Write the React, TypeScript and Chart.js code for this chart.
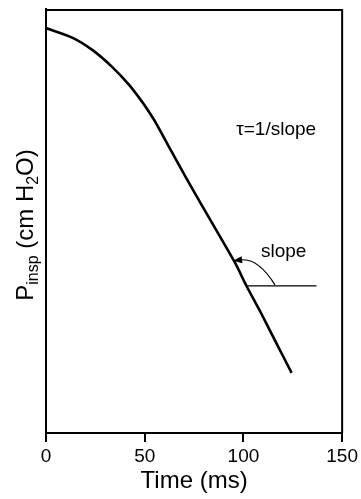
import React, { useEffect, useRef } from "react";
import { Chart, registerables } from "chart.js";

Chart.register(...registerables);

const FONT = "'Liberation Sans', Arial, Helvetica, sans-serif";

// Curve: inspiratory pressure vs time
const timeMs = [0, 13.5, 23.6, 33.6, 42.1, 48.7, 52.2, 55.7, 63.7, 70.7, 78.8, 95.8, 101.3, 108.9, 115.9, 124.4];
const pressure = [95.5, 93.2, 90.3, 86.3, 82.1, 78.1, 75.7, 73.1, 66.3, 60.4, 53.8, 40.1, 34.9, 28.3, 21.9, 14.2];

// Horizontal reference line for the slope
const slopeLineX = [101.3, 137];
const slopeLineY = [34.7, 34.7];

// Axis
const xTicks = [0, 50, 100, 150];
const xTitle = "Time (ms)";
const yTitleParts = [
  { text: "P", sub: false },
  { text: "insp", sub: true },
  { text: " (cm H", sub: false },
  { text: "2", sub: true },
  { text: "O)", sub: false },
];

// Annotations (data units)
const tauLabel = { text: "τ=1/slope", x: 116.6, y: 71.5 };
const slopeLabel = { text: "slope", x: 120.4, y: 42.7 };

export default function App() {
  const ref = useRef<HTMLCanvasElement>(null);

  useEffect(() => {
    const canvas = ref.current!;

    const frame = {
      id: "frame",
      afterDraw(chart: any) {
        const { ctx, chartArea: a, scales } = chart;
        ctx.save();
        ctx.strokeStyle = "#000";
        ctx.lineWidth = 2;
        ctx.beginPath();
        ctx.moveTo(a.left, a.top + 1);
        ctx.lineTo(a.right, a.top + 1);
        ctx.moveTo(a.right, a.top);
        ctx.lineTo(a.right, a.bottom);
        ctx.stroke();

        // Y title with subscripts
        const F = 24;
        const S = 16;
        const parts = yTitleParts.map((p) => {
          ctx.font = `${p.sub ? S : F}px ${FONT}`;
          return { ...p, w: ctx.measureText(p.text).width };
        });
        const total = parts.reduce((s, p) => s + p.w, 0);
        const cy = (a.top + a.bottom) / 2 + 4;
        ctx.translate(33, cy);
        ctx.rotate(-Math.PI / 2);
        ctx.fillStyle = "#000";
        ctx.textBaseline = "alphabetic";
        ctx.textAlign = "left";
        let x = -total / 2;
        for (const p of parts) {
          ctx.font = `${p.sub ? S : F}px ${FONT}`;
          ctx.fillText(p.text, x, p.sub ? 5 : 0);
          x += p.w;
        }
        ctx.restore();

        // Annotations
        const xs = scales.x;
        const ys = scales.y;
        ctx.save();
        ctx.fillStyle = "#000";
        ctx.font = `19px ${FONT}`;
        ctx.textAlign = "center";
        ctx.textBaseline = "middle";
        ctx.fillText(tauLabel.text, xs.getPixelForValue(tauLabel.x), ys.getPixelForValue(tauLabel.y));
        ctx.fillText(slopeLabel.text, xs.getPixelForValue(slopeLabel.x), ys.getPixelForValue(slopeLabel.y));

        // Arc with arrow
        const px = xs.getPixelForValue(slopeLineX[0]);
        const py = ys.getPixelForValue(slopeLineY[0]);
        const sx = px + 29, sy = py - 1;
        const cx = px + 12, cyy = py - 28;
        const ex = px - 5, ey = py - 26;
        ctx.strokeStyle = "#000";
        ctx.lineWidth = 1.2;
        ctx.beginPath();
        ctx.moveTo(sx, sy);
        ctx.quadraticCurveTo(cx, cyy, ex, ey);
        ctx.stroke();
        let dx = ex - cx, dy = ey - cyy;
        const len = Math.hypot(dx, dy);
        dx /= len; dy /= len;
        const tx = ex + dx * 8, ty = ey + dy * 8;
        const nx = -dy, ny = dx;
        ctx.beginPath();
        ctx.moveTo(tx, ty);
        ctx.lineTo(ex - dx * 1 + nx * 3.5, ey - dy * 1 + ny * 3.5);
        ctx.lineTo(ex - dx * 1 - nx * 3.5, ey - dy * 1 - ny * 3.5);
        ctx.closePath();
        ctx.fill();
        ctx.restore();
      },
    };

    const chart = new Chart(canvas, {
      type: "line",
      data: {
        datasets: [
          {
            data: timeMs.map((t, i) => ({ x: t, y: pressure[i] })),
            borderColor: "#000",
            borderWidth: 2.6,
            pointRadius: 0,
            tension: 0.25,
            fill: false,
          },
          {
            data: slopeLineX.map((t, i) => ({ x: t, y: slopeLineY[i] })),
            borderColor: "#000",
            borderWidth: 1.2,
            pointRadius: 0,
            tension: 0,
            fill: false,
          },
        ],
      },
      options: {
        animation: false,
        responsive: false,
        devicePixelRatio: 1,
        layout: { padding: { top: 9, right: 16, left: 0, bottom: 0 } },
        plugins: { legend: { display: false }, tooltip: { enabled: false } },
        scales: {
          x: {
            type: "linear",
            min: 0,
            max: 150,
            afterBuildTicks: (s: any) => {
              s.ticks = xTicks.map((v) => ({ value: v }));
            },
            afterFit: (s: any) => {
              s.height = 66;
            },
            ticks: {
              color: "#000",
              font: { family: FONT, size: 19 },
              padding: 3,
              maxRotation: 0,
            },
            grid: {
              display: true,
              drawOnChartArea: false,
              drawTicks: true,
              tickLength: 9,
              color: "#000",
              lineWidth: 2,
            },
            border: { display: true, color: "#000", width: 2 },
            title: {
              display: true,
              text: xTitle,
              color: "#000",
              font: { family: FONT, size: 24 },
              padding: { top: 0, bottom: 3 },
            },
          },
          y: {
            type: "linear",
            min: 0,
            max: 100,
            afterFit: (s: any) => {
              s.width = 46;
            },
            ticks: { display: false },
            grid: { display: true, drawOnChartArea: false, drawTicks: false },
            border: { display: true, color: "#000", width: 2 },
          },
        },
      },
      plugins: [frame],
    });

    return () => chart.destroy();
  }, []);

  return (
    <div style={{ position: "absolute", left: 0, top: 0, width: 361, height: 499 }}>
      <canvas ref={ref} width={361} height={499} style={{ display: "block" }} />
    </div>
  );
}
